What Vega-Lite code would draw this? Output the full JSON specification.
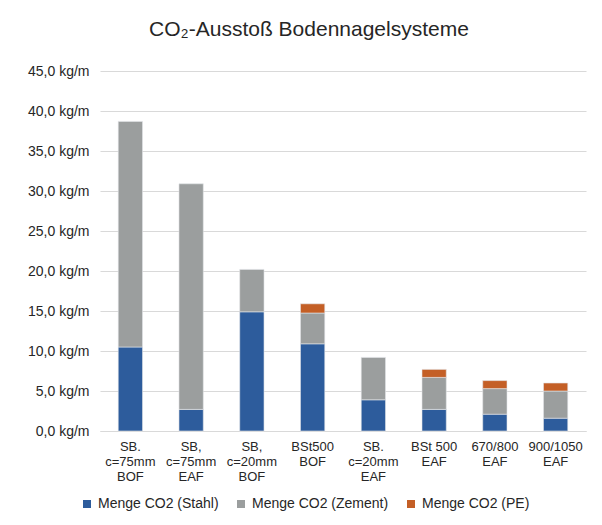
{
  "$schema": "https://vega.github.io/schema/vega-lite/v6.json",
  "autosize": "none",
  "width": 486,
  "height": 360,
  "padding": {"left": 100, "top": 71, "right": 16, "bottom": 94},
  "background": "white",
  "title": {
    "text": "CO₂-Ausstoß Bodennagelsysteme",
    "anchor": "middle",
    "frame": "group",
    "dx": -34,
    "offset": 24,
    "font": "Liberation Sans",
    "fontSize": 21,
    "fontWeight": "normal",
    "color": "#262626"
  },
  "data": {
    "values": [
      {"system": "SB.\nc=75mm\nBOF", "anteil": "Menge CO2 (Stahl)", "rang": 1, "wert": 10.5},
      {"system": "SB.\nc=75mm\nBOF", "anteil": "Menge CO2 (Zement)", "rang": 2, "wert": 28.2},
      {"system": "SB,\nc=75mm\nEAF", "anteil": "Menge CO2 (Stahl)", "rang": 1, "wert": 2.7},
      {"system": "SB,\nc=75mm\nEAF", "anteil": "Menge CO2 (Zement)", "rang": 2, "wert": 28.2},
      {"system": "SB,\nc=20mm\nBOF", "anteil": "Menge CO2 (Stahl)", "rang": 1, "wert": 14.9},
      {"system": "SB,\nc=20mm\nBOF", "anteil": "Menge CO2 (Zement)", "rang": 2, "wert": 5.3},
      {"system": "BSt500\nBOF", "anteil": "Menge CO2 (Stahl)", "rang": 1, "wert": 10.9},
      {"system": "BSt500\nBOF", "anteil": "Menge CO2 (Zement)", "rang": 2, "wert": 3.85},
      {"system": "BSt500\nBOF", "anteil": "Menge CO2 (PE)", "rang": 3, "wert": 1.15},
      {"system": "SB.\nc=20mm\nEAF", "anteil": "Menge CO2 (Stahl)", "rang": 1, "wert": 3.9},
      {"system": "SB.\nc=20mm\nEAF", "anteil": "Menge CO2 (Zement)", "rang": 2, "wert": 5.3},
      {"system": "BSt 500\nEAF", "anteil": "Menge CO2 (Stahl)", "rang": 1, "wert": 2.7},
      {"system": "BSt 500\nEAF", "anteil": "Menge CO2 (Zement)", "rang": 2, "wert": 4.0},
      {"system": "BSt 500\nEAF", "anteil": "Menge CO2 (PE)", "rang": 3, "wert": 1.0},
      {"system": "670/800\nEAF", "anteil": "Menge CO2 (Stahl)", "rang": 1, "wert": 2.1},
      {"system": "670/800\nEAF", "anteil": "Menge CO2 (Zement)", "rang": 2, "wert": 3.2},
      {"system": "670/800\nEAF", "anteil": "Menge CO2 (PE)", "rang": 3, "wert": 1.0},
      {"system": "900/1050\nEAF", "anteil": "Menge CO2 (Stahl)", "rang": 1, "wert": 1.6},
      {"system": "900/1050\nEAF", "anteil": "Menge CO2 (Zement)", "rang": 2, "wert": 3.4},
      {"system": "900/1050\nEAF", "anteil": "Menge CO2 (PE)", "rang": 3, "wert": 1.0}
    ]
  },
  "mark": {"type": "bar", "stroke": "#e4e6ea", "strokeWidth": 0.6},
  "encoding": {
    "x": {
      "field": "system",
      "type": "nominal",
      "sort": null,
      "title": null,
      "scale": {"paddingInner": 0.6, "paddingOuter": 0.3},
      "axis": {
        "labelAngle": 0,
        "labelExpr": "split(datum.label, '\\n')",
        "labelFont": "Liberation Sans",
        "labelFontSize": 13,
        "labelLineHeight": 15,
        "labelColor": "#262626",
        "labelPadding": 9,
        "labelBaseline": "top",
        "ticks": false,
        "domainColor": "#d9d9d9",
        "domainWidth": 1
      }
    },
    "y": {
      "field": "wert",
      "type": "quantitative",
      "stack": "zero",
      "title": null,
      "scale": {"domain": [0, 45], "nice": false},
      "axis": {
        "values": [0, 5, 10, 15, 20, 25, 30, 35, 40, 45],
        "labelExpr": "replace(format(datum.value, '.1f'), '.', ',') + ' kg/m'",
        "labelFont": "Liberation Sans",
        "labelFontSize": 14,
        "labelColor": "#262626",
        "labelPadding": 11,
        "ticks": false,
        "domain": false,
        "gridColor": "#d9d9d9",
        "gridWidth": 1
      }
    },
    "order": {"field": "rang", "type": "quantitative", "sort": "ascending"},
    "color": {
      "field": "anteil",
      "type": "nominal",
      "scale": {
        "domain": ["Menge CO2 (Stahl)", "Menge CO2 (Zement)", "Menge CO2 (PE)"],
        "range": ["#2d5c9c", "#9b9e9e", "#c45f26"]
      },
      "legend": {
        "title": null,
        "orient": "none",
        "legendX": -20,
        "legendY": 426,
        "direction": "horizontal",
        "symbolType": "square",
        "symbolSize": 64,
        "symbolStrokeWidth": 0,
        "labelFont": "Liberation Sans",
        "labelFontSize": 14,
        "labelColor": "#262626",
        "labelOffset": 4,
        "columnPadding": 15
      }
    }
  },
  "config": {
    "view": {"stroke": null}
  }
}
